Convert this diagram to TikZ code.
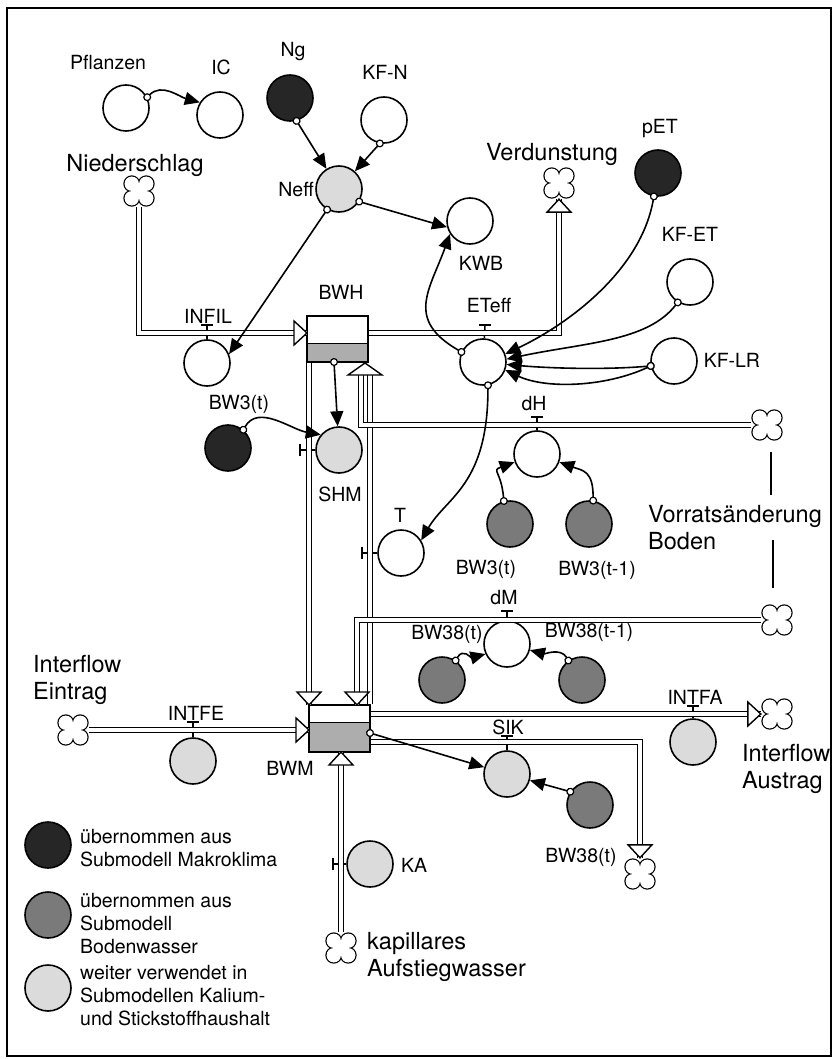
\documentclass[tikz,border=0pt]{standalone}
\usepackage{fontspec}
\setmainfont{TeX Gyre Heros}
\usetikzlibrary{arrows.meta}
\colorlet{cdark}{black!85}
\colorlet{cmid}{black!52}
\colorlet{clight}{black!14}
\colorlet{cbox}{black!32}
\tikzset{
  circ/.style={circle, draw, line width=1.6pt, minimum size=46pt, inner sep=0pt, fill=white},
  dark/.style={circ, fill=cdark},
  mid/.style={circ, fill=cmid},
  light/.style={circ, fill=clight},
  lab/.style={font=\fontsize{19.5}{23}\selectfont, inner sep=0pt, text height=14pt, text depth=0pt},
  biglab/.style={font=\fontsize{23.5}{27}\selectfont, inner sep=0pt, text height=17pt, text depth=0pt},
  multilab/.style={font=\fontsize{23.5}{27}\selectfont, inner sep=0pt, align=left, anchor=north west},
  legtext/.style={font=\fontsize{19.5}{23}\selectfont, inner sep=0pt, align=left, anchor=north west},
  pipe/.style={draw=black, line width=1.4pt, double=white, double distance=3.1pt},
  conn/.style={line width=1.6pt, {Circle[length=8pt,width=8pt,fill=white,line width=1.2pt]}-{Triangle[length=15pt,width=13pt]}, shorten <=-4pt},
  vstem/.style={line width=1.5pt},
  frameline/.style={line width=1.8pt},
  cloudn/.style={rectangle, minimum size=32pt, inner sep=0pt},
  cloudpic/.pic={
    \foreach \a in {45,135,225,315}{\draw[line width=1.3pt] (\a:10.2) circle[radius=7.8pt];}
    \foreach \a in {45,135,225,315}{\fill[white] (\a:10.2) circle[radius=7.15pt];}
    \fill[white] (-7.4,-7.4) rectangle (7.4,7.4);
  },
  ftip/.pic={\draw[fill=white, line width=1.4pt, line join=miter] (0,0) -- (-13,12) -- (-13,-12) -- cycle;},
  ftipwide/.pic={\draw[fill=white, line width=1.4pt, line join=miter] (0,0) -- (-12,17) -- (-12,-17) -- cycle;},
  box/.style={rectangle, draw, line width=1.6pt, minimum width=61pt, minimum height=46pt, inner sep=0pt, fill=white,
    path picture={\fill[cbox] (path picture bounding box.south west) rectangle ([yshift=#1]path picture bounding box.south east);
      \draw[line width=0.9pt] ([yshift=#1]path picture bounding box.south west) -- ([yshift=#1]path picture bounding box.south east);}}
}
\newcommand\cloudat[2]{\node[cloudn] (#1) at (#2) {}; \pic at (#1) {cloudpic};}
\newcommand\flowvalveH[2]{\draw[vstem] (#1) -- (#2); \draw[vstem] ([xshift=-6pt]#2) -- ([xshift=6pt]#2);}
\newcommand\flowvalveV[2]{\draw[vstem] (#1) -- (#2); \draw[vstem] ([yshift=-6pt]#2) -- ([yshift=6pt]#2);}
\begin{document}
\begin{tikzpicture}[x=1pt,y=1pt]
\useasboundingbox (0,0) rectangle (833,-1059);
\draw[frameline] (7,-8) rectangle (831,-1056);

% ---------- auxiliaries (circles) ----------
\node[circ]  (Pfl)   at (126,-108) {};
\node[circ]  (IC)    at (220,-115) {};
\node[dark]  (Ng)    at (290,-98)  {};
\node[circ]  (KFN)   at (384,-120) {};
\node[light] (Neff)  at (339,-189) {};
\node[circ]  (KWB)   at (470,-221) {};
\node[dark]  (pET)   at (658,-173) {};
\node[circ]  (KFET)  at (690,-282) {};
\node[circ]  (INFIL) at (207,-363) {};
\node[circ]  (ETeff) at (483,-362) {};
\node[circ]  (KFLR)  at (674,-361) {};
\node[dark]  (BW3a)  at (228,-448) {};
\node[light] (SHM)   at (339,-450) {};
\node[circ]  (T)     at (401,-553) {};
\node[circ]  (dH)    at (537,-454) {};
\node[mid]   (BW3b)  at (510,-524) {};
\node[mid]   (BW3c)  at (589,-524) {};
\node[circ]  (dM)    at (507,-644) {};
\node[mid]   (BW38a) at (442,-680) {};
\node[mid]   (BW38b) at (582,-680) {};
\node[light] (INTFA) at (693,-742) {};
\node[light] (SIK)   at (507,-774) {};
\node[mid]   (BW38c) at (590,-805) {};
\node[light] (INTFE) at (193,-761) {};
\node[light] (KA)    at (370,-864) {};

% ---------- stocks ----------
\node[box=19pt] (BWH) at (337.5,-339) {};
\node[box=30pt, minimum height=47pt] (BWM) at (339.5,-728.5) {};

% ---------- clouds ----------
\cloudat{cNied}{139,-191}
\cloudat{cVerd}{559,-183}
\cloudat{cVorrH}{767,-425}
\cloudat{cVorrM}{777,-620}
\cloudat{cIFE}{73,-730}
\cloudat{cIFA}{777,-714}
\cloudat{cSIK}{640,-874}
\cloudat{cKA}{341,-948}

% ---------- coordinates on stocks ----------
\coordinate (BWHin)   at (307,-333);
\coordinate (BWHout)  at (368.8,-333);
\coordinate (BWHsl)   at (309,-362.8);
\coordinate (BWHup)   at (365,-363);
\coordinate (BWHupT)  at (370,-370);
\coordinate (BWHupH)  at (361,-370);
\coordinate (BWHsrc)  at (334,-362);
\coordinate (BWMtl)   at (309,-705);
\coordinate (BWMtm)   at (357,-705);
\coordinate (BWMtr)   at (370,-704.2);
\coordinate (BWMin)   at (309,-730);
\coordinate (BWMout1) at (370.8,-714);
\coordinate (BWMout2) at (370.8,-742);
\coordinate (BWMbot)  at (341,-752);
\coordinate (BWMsrc)  at (370,-733);

% ---------- valves ----------
\coordinate (vINFIL) at (207,-325);
\coordinate (vETeff) at (485,-325);
\coordinate (vdH)    at (537,-417);
\coordinate (vdM)    at (507,-611);
\coordinate (vINTFE) at (193,-722);
\coordinate (vINTFA) at (693,-706);
\coordinate (vSIK)   at (507,-736);
\coordinate (vSHM)   at (300,-450);
\coordinate (vT)     at (362,-553);
\coordinate (vKA)    at (333,-864);
\flowvalveH{INFIL}{vINFIL}
\flowvalveH{ETeff}{vETeff}
\flowvalveH{dH}{vdH}
\flowvalveH{dM}{vdM}
\flowvalveH{INTFE}{vINTFE}
\flowvalveH{INTFA}{vINTFA}
\flowvalveH{SIK}{vSIK}
\flowvalveV{SHM}{vSHM}
\flowvalveV{T}{vT}
\flowvalveV{KA}{vKA}

% ---------- flows (pipes) ----------
\draw[pipe] (cNied.south) |- (BWHin);
\draw[pipe] (BWHout) -| (cVerd.south);
\draw[pipe] (BWHsl) -- (BWMtl);
\draw[pipe] (BWMtr) -- (BWHupT);
\draw[pipe] (cVorrH.west) -| (BWHupH);
\draw[pipe] (cVorrM.west) -| (BWMtm);
\draw[pipe] (cIFE.east) -- (BWMin);
\draw[pipe] (BWMout1) -- (cIFA.west);
\draw[pipe] (BWMout2) -| (cSIK.north);
\draw[pipe] (cKA.north) -- (BWMbot);

\pic at (BWHin) {ftip};
\pic[rotate=90] at (cVerd.south) {ftip};
\pic[rotate=-90] at (BWMtl) {ftip};
\pic[rotate=-90] at (BWMtm) {ftip};
\pic[rotate=90] at (BWHup) {ftipwide};
\pic at (BWMin) {ftip};
\pic at (cIFA.west) {ftip};
\pic[rotate=-90] at (cSIK.north) {ftip};
\pic[rotate=90] at (BWMbot) {ftip};

% ---------- Vorratsaenderung markers ----------
\coordinate (vmA1) at (771,-452);
\coordinate (vmA2) at (771,-495);
\coordinate (vmB1) at (773,-540);
\coordinate (vmB2) at (773,-588);
\draw[vstem] (vmA1) -- (vmA2);
\draw[vstem] (vmB1) -- (vmB2);

% ---------- connectors ----------
\draw[conn] (Pfl.27) to[out=45,in=165] (IC.148);
\draw[conn] (Ng.-74) -- (Neff);
\draw[conn] (KFN.-100) -- (Neff);
\draw[conn] (Neff.-120) -- (INFIL.22);
\draw[conn] (Neff.-32) -- (KWB.195);
\draw[conn] (ETeff.155) .. controls +(150:65) and +(250:60) .. (KWB.213);
\draw[conn] (pET.-100) .. controls +(260:80) and +(25:60) .. (ETeff.20);
\draw[conn] (KFET.-121) .. controls +(232:50) and +(12:80) .. (ETeff.7);
\draw[conn] (KFLR.192) .. controls +(185:45) and +(-5:45) .. (ETeff.-6);
\draw[conn] (KFLR.192) .. controls +(205:50) and +(-25:45) .. (ETeff.-20);
\draw[conn] (ETeff.-78) .. controls +(-90:100) and +(60:50) .. (T.32);
\draw[conn] (BW3a.50) .. controls +(60:30) and +(170:30) .. (SHM.140);
\draw[conn] (BWHsrc) -- (SHM);
\draw[conn] (BW3b.105) .. controls +(95:30) and +(200:25) .. (dH.200);
\draw[conn] (BW3c.80) .. controls +(90:30) and +(-20:25) .. (dH.-20);
\draw[conn] (BW38a.55) .. controls +(60:15) and +(195:15) .. (dM.205);
\draw[conn] (BW38b.125) .. controls +(120:15) and +(-15:15) .. (dM.-15);
\draw[conn] (BWMsrc) -- (SIK);
\draw[conn] (BW38c.146) -- (SIK);

% ---------- labels ----------
\node[lab] (lPfl)   at (108,-63)  {Pflanzen};
\node[lab] (lIC)    at (221,-68)  {IC};
\node[lab] (lNg)    at (293,-50)  {Ng};
\node[lab] (lKFN)   at (385,-73)  {KF-N};
\node[biglab] (lNied) at (135,-163) {Niederschlag};
\node[lab] (lNeff)  at (296,-190) {Neff};
\node[lab] (lBWH)   at (341,-292) {BWH};
\node[lab] (lINFIL) at (208,-316) {INFIL};
\node[biglab] (lVerd) at (552,-152) {Verdunstung};
\node[lab] (lpET)   at (660,-127) {pET};
\node[lab] (lKFET)  at (690,-234) {KF-ET};
\node[lab] (lKWB)   at (481,-263) {KWB};
\node[lab] (lETeff) at (489,-305) {ETeff};
\node[lab] (lBW3a)  at (239,-402) {BW3(t)};
\node[lab] (lSHM)   at (340,-494) {SHM};
\node[lab] (lT)     at (400,-515) {T};
\node[lab] (lKFLR)  at (732,-360) {KF-LR};
\node[lab] (ldH)    at (534,-403) {dH};
\node[lab] (lBW3b)  at (486,-567) {BW3(t)};
\node[lab] (lBW3c)  at (597,-568) {BW3(t-1)};
\node[lab] (ldM)    at (504,-597) {dM};
\node[lab] (lBW38a) at (447,-632) {BW38(t)};
\node[lab] (lBW38b) at (589,-630) {BW38(t-1)};
\node[lab] (lINTFA) at (695,-697) {INTFA};
\node[lab] (lSIK)   at (508,-727) {SIK};
\node[lab] (lBW38c) at (581,-855) {BW38(t)};
\node[lab] (lKA)    at (414,-865) {KA};
\node[lab] (lINTFE) at (196,-713) {INTFE};
\node[lab] (lBWM)   at (290,-768) {BWM};
\node[multilab] (lIFE)  at (33,-655)  {Interflow\\Eintrag};
\node[multilab] (lIFA)  at (742,-744) {Interflow\\Austrag};
\node[multilab] (lVorr) at (648,-505) {Vorratsänderung\\Boden};
\node[multilab] (lKap)  at (367,-932) {kapillares\\Aufstiegwasser};

% ---------- legend ----------
\node[dark]  (legD) at (48,-845) {};
\node[mid]   (legM) at (48,-915) {};
\node[light] (legL) at (48,-988) {};
\node[legtext] (legDt) at (80,-829) {übernommen aus\\Submodell Makroklima};
\node[legtext] (legMt) at (80,-893) {übernommen aus\\Submodell\\Bodenwasser};
\node[legtext] (legLt) at (80,-965) {weiter verwendet in\\Submodellen Kalium-\\und Stickstoffhaushalt};
\end{tikzpicture}
\end{document}
